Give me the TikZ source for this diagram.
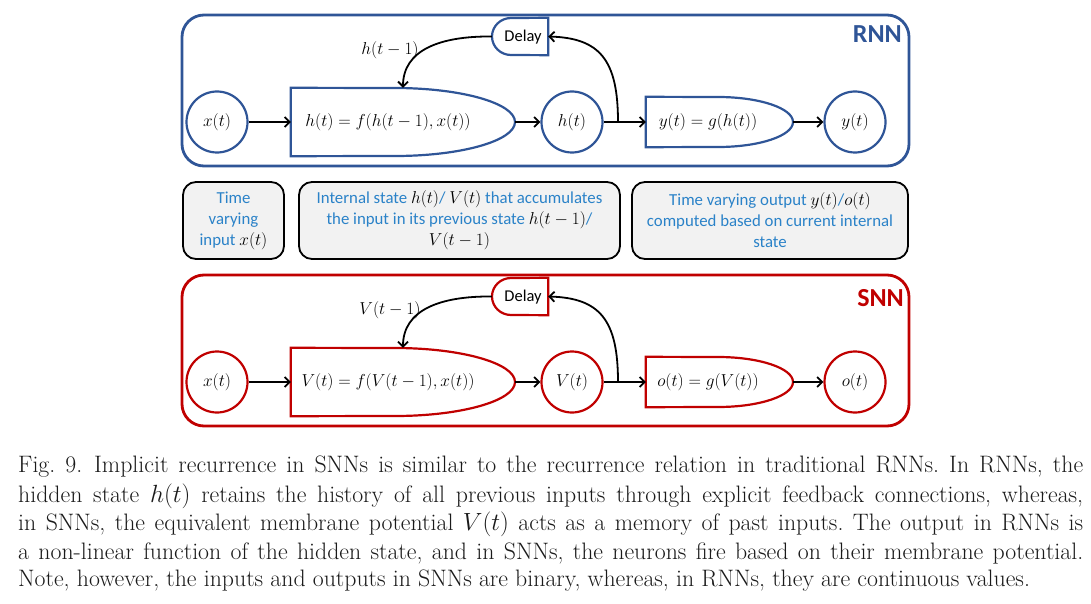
\documentclass[tikz,border=0pt]{standalone}
\usepackage{fontspec}
\newfontfamily\calib{Carlito}
\usetikzlibrary{arrows.meta}
\definecolor{rnnblue}{HTML}{2F5597}
\definecolor{snnred}{HTML}{C00000}
\definecolor{txtblue}{HTML}{2A82C8}
\definecolor{boxgray}{HTML}{F2F2F2}
\definecolor{captxt}{HTML}{1A1A1A}
\newcommand{\mk}[1]{{\color{black}$#1$}}
\frenchspacing
\begin{document}
\begin{tikzpicture}[x=1pt,y=1pt,
  arr/.style={line width=1.8pt,-{Straight Barb[length=5pt,width=10pt,line width=1.8pt]}},
  circ/.style={circle,draw=#1,line width=2.2pt,minimum size=61pt,inner sep=0pt,font=\fontsize{16.5}{19}\selectfont},
  outline/.style={draw=#1,line width=2.2pt},
  mtxt/.style={inner sep=0pt,font=\fontsize{16.5}{19}\selectfont},
  delaytxt/.style={inner sep=0pt,font=\calib\fontsize{16.5}{19}\selectfont},
  bigbox/.style={draw=#1,line width=2.8pt,rounded corners=22pt,minimum width=727pt,minimum height=151pt,inner sep=0pt},
  tag/.style={anchor=east,inner sep=0pt,text=#1,font=\calib\bfseries\fontsize{26}{26}\selectfont},
  midbox/.style={draw=black,line width=1.8pt,fill=boxgray,rounded corners=13pt,inner sep=0pt,align=center,text=txtblue,font=\calib\fontsize{16.8}{21}\selectfont},
  capline/.style={anchor=west,inner sep=0pt,text=captxt,font=\fontsize{23.8}{28}\selectfont}
]
\useasboundingbox (0,0) rectangle (1091,-604);

% ---------------- RNN ----------------
\node[bigbox=rnnblue] (rnn) at (545.5,-90.5) {};
\node[tag=rnnblue] (rnnlab) at (902,-34) {RNN};

\node[circ=rnnblue] (x1) at (217,-122) {$x(t)$};
\node[minimum width=224pt,minimum height=68pt,inner sep=0pt] (f1) at (403,-122) {};
\draw[outline=rnnblue] (f1.north west) -- (395,-88) arc[start angle=90,end angle=-90,x radius=120,y radius=34] -- (f1.south west) -- cycle;
\node[mtxt] (f1t) at (388,-122) {$h(t) = f(h(t-1), x(t))$};
\node[circ=rnnblue] (h1) at (572,-122) {$h(t)$};
\node[minimum width=147pt,minimum height=50pt,inner sep=0pt] (g1) at (719.5,-122) {};
\draw[outline=rnnblue] (g1.north west) -- (718,-97) arc[start angle=90,end angle=-90,x radius=75,y radius=25] -- (g1.south west) -- cycle;
\node[mtxt] (g1t) at (708,-122) {$y(t) = g(h(t))$};
\node[circ=rnnblue] (y1) at (855,-122) {$y(t)$};
\node[minimum width=56pt,minimum height=37pt,inner sep=0pt] (d1) at (520,-36.5) {};
\draw[outline=rnnblue] (d1.north east) -- (511,-18) arc[start angle=90,end angle=270,x radius=19,y radius=18.5] -- (d1.south east) -- cycle;
\node[delaytxt] (d1t) at (523,-37) {Delay};
\coordinate (j1) at (618,-122);

\draw[arr] (x1) -- (f1);
\draw[arr] (f1) -- (h1);
\draw[arr] (h1) -- (g1);
\draw[arr] (g1) -- (y1);
\draw[arr] (j1) .. controls (618,-60) and (600,-38) .. (d1.east);
\draw[arr] (d1.west) .. controls (440,-36) and (403,-50) .. (f1.north);
\node[mtxt] (l1) at (390,-50) {$h(t-1)$};

% ---------------- SNN ----------------
\begin{scope}[yshift=-260pt]
\node[bigbox=snnred] (snn) at (545.5,-90.5) {};
\node[tag=snnred] (snnlab) at (904,-38) {SNN};

\node[circ=snnred] (x2) at (217,-122) {$x(t)$};
\node[minimum width=224pt,minimum height=68pt,inner sep=0pt] (f2) at (403,-122) {};
\draw[outline=snnred] (f2.north west) -- (395,-88) arc[start angle=90,end angle=-90,x radius=120,y radius=34] -- (f2.south west) -- cycle;
\node[mtxt] (f2t) at (388,-122) {$V(t) = f(V(t-1), x(t))$};
\node[circ=snnred] (h2) at (572,-122) {$V(t)$};
\node[minimum width=147pt,minimum height=50pt,inner sep=0pt] (g2) at (719.5,-122) {};
\draw[outline=snnred] (g2.north west) -- (718,-97) arc[start angle=90,end angle=-90,x radius=75,y radius=25] -- (g2.south west) -- cycle;
\node[mtxt] (g2t) at (708,-122) {$o(t) = g(V(t))$};
\node[circ=snnred] (y2) at (855,-122) {$o(t)$};
\node[minimum width=56pt,minimum height=37pt,inner sep=0pt] (d2) at (520,-36.5) {};
\draw[outline=snnred] (d2.north east) -- (511,-18) arc[start angle=90,end angle=270,x radius=19,y radius=18.5] -- (d2.south east) -- cycle;
\node[delaytxt] (d2t) at (523,-37) {Delay};
\coordinate (j2) at (618,-122);

\draw[arr] (x2) -- (f2);
\draw[arr] (f2) -- (h2);
\draw[arr] (h2) -- (g2);
\draw[arr] (g2) -- (y2);
\draw[arr] (j2) .. controls (618,-60) and (600,-38) .. (d2.east);
\draw[arr] (d2.west) .. controls (440,-36) and (403,-50) .. (f2.north);
\node[mtxt] (l2) at (390,-50) {$V(t-1)$};
\end{scope}

% ---------------- middle boxes ----------------
\node[midbox,minimum width=101pt,minimum height=77pt] (b1) at (233.5,-220.5) {Time\\varying\\input \mk{x(t)}};
\node[midbox,minimum width=321pt,minimum height=77pt] (b2) at (459.5,-220.5) {Internal state \mk{h(t)}/ \mk{V(t)} that accumulates\\the input in its previous state \mk{h(t-1)}/\\\mk{V(t-1)}};
\node[midbox,minimum width=276pt,minimum height=77pt] (b3) at (770,-220.5) {Time varying output \mk{y(t)}/\mk{o(t)}\\computed based on current internal\\state};

% ---------------- caption ----------------
\node[capline] (c1) at (18,-467) {\makebox[1065pt][s]{Fig. 9.\enspace Implicit recurrence in SNNs is similar to the recurrence relation in traditional RNNs. In RNNs, the}};
\node[capline] (c2) at (18,-496) {\makebox[1065pt][s]{hidden state $h(t)$ retains the history of all previous inputs through explicit feedback connections, whereas,}};
\node[capline] (c3) at (18,-524) {\makebox[1065pt][s]{in SNNs, the equivalent membrane potential $V(t)$ acts as a memory of past inputs. The output in RNNs is}};
\node[capline] (c4) at (18,-553) {\makebox[1065pt][s]{a non-linear function of the hidden state, and in SNNs, the neurons fire based on their membrane potential.}};
\node[capline] (c5) at (18,-581) {Note, however, the inputs and outputs in SNNs are binary, whereas, in RNNs, they are continuous values.};
\end{tikzpicture}
\end{document}
